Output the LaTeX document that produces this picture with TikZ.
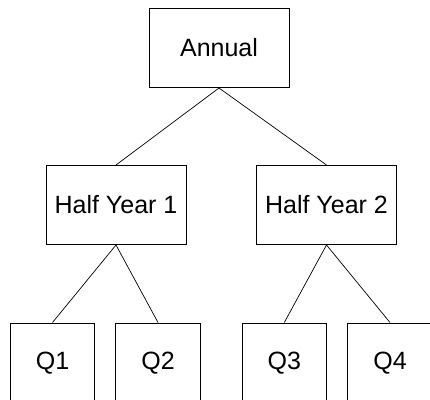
\documentclass[tikz,border=0pt]{standalone}
\usepackage{fontspec}
\setmainfont{Liberation Sans}
\begin{document}
\begin{tikzpicture}[x=1pt,y=-1pt,
  box/.style={draw,line width=1pt,rectangle,inner sep=0pt,font=\fontsize{25}{29}\selectfont},
  big/.style={box,minimum width=140pt,minimum height=79pt},
  small/.style={box,minimum width=84.5pt,minimum height=80pt},
  link/.style={line width=0.7pt}]
\useasboundingbox (0,0) rectangle (430,399);
\begin{scope}
\clip (0,0) rectangle (430,399);
\node[big] (ann) at (219,48) {Annual};
\node[big] (h1) at (116,205) {Half Year 1};
\node[big] (h2) at (326.5,205) {Half Year 2};
\node[small] (q1) at (52.5,363) {Q1};
\node[small] (q2) at (158,363) {Q2};
\node[small] (q3) at (284.3,363) {Q3};
\node[small] (q4) at (390,363) {Q4};
\draw[link] (ann.south) -- (h1.north);
\draw[link] (ann.south) -- (h2.north);
\draw[link] (h1.south) -- (q1.north);
\draw[link] (h1.south) -- (q2.north);
\draw[link] (h2.south) -- (q3.north);
\draw[link] (h2.south) -- (q4.north);
\end{scope}
\end{tikzpicture}
\end{document}
